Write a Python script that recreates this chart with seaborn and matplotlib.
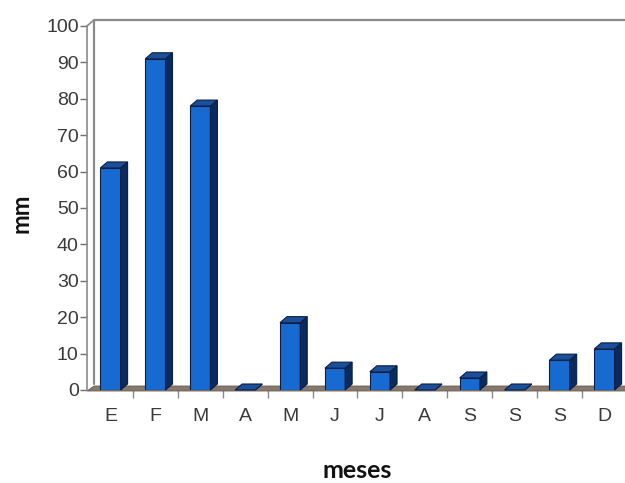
import matplotlib
matplotlib.use("Agg")
import matplotlib.pyplot as plt
import numpy as np
import pandas as pd
import seaborn as sns
from matplotlib.patches import Polygon

# monthly rainfall (mm)
months = ["E", "F", "M", "A", "M", "J", "J", "A", "S", "S", "S", "D"]
rain_mm = [61, 91, 78, 0, 18.5, 6, 5, 0, 3.3, 0, 8.2, 11.3]
y_ticks = list(range(0, 101, 10))

FRONT = "#176bd0"
SIDE = "#0b2b5e"
TOP = "#1c4f9a"
EDGE = "#0a1f45"
DX, DY = 7, 6  # fake 3d depth, pixels

sns.set_style("white")
plt.rcParams["font.family"] = ["Liberation Sans Narrow", "Liberation Sans", "DejaVu Sans"]

df = pd.DataFrame({"pos": np.arange(len(months)), "mm": rain_mm})

fig = plt.figure(figsize=(6.25, 4.83), dpi=100)
ax = fig.add_axes([87 / 625, 93 / 483, 538 / 625, 364 / 483])

sns.barplot(data=df, x="pos", y="mm", color=FRONT, saturation=1, width=0.45,
            edgecolor=EDGE, linewidth=0.8, ax=ax, zorder=2)
bars = list(ax.patches)

ax.set_xlim(-0.523, 11.457)
ax.set_ylim(0, 100)
ax.set_yticks(y_ticks)
ax.set_xticks(np.arange(len(months)))
ax.set_xticklabels(months)
ax.set_xticks(np.arange(len(months) - 1) + 0.5, minor=True)

for s in ["top", "right", "bottom"]:
    ax.spines[s].set_visible(False)
ax.spines["left"].set_color("#8a8a8a")
ax.spines["left"].set_linewidth(1.2)

ax.tick_params(axis="y", left=True, direction="out", length=5, width=1, color="#707070",
               labelsize=14, labelcolor="#3a3a3a", pad=1)
ax.tick_params(axis="x", which="major", bottom=True, length=0, labelsize=14,
               labelcolor="#3a3a3a", pad=13)
ax.tick_params(axis="x", which="minor", bottom=True, length=6, width=1, color="#8a8a8a")

to_data = ax.transData.inverted()


def add_poly(pts_px, **kw):
    ax.add_patch(Polygon(to_data.transform(np.array(pts_px, dtype=float)), closed=True,
                         clip_on=False, **kw))


# floor and back wall
(x_left, y_floor), (x_right, y_top) = ax.transData.transform([(-0.523, 0), (11.457, 100)])
add_poly([(x_left, y_floor - 1), (x_right, y_floor - 1), (x_right + DX, y_floor + DY - 2),
          (x_left + DX, y_floor + DY - 2)], facecolor="#85786c", edgecolor="#6a5c50",
         linewidth=0.6, zorder=1)
wall = to_data.transform([(x_left + DX, y_floor + DY), (x_left + DX, y_top + DY),
                          (x_right + 5, y_top + DY)])
ax.plot(wall[:, 0], wall[:, 1], color="#8a8a8a", lw=1.6, clip_on=False, zorder=1)
diag = to_data.transform([(x_left, y_top), (x_left + DX, y_top + DY)])
ax.plot(diag[:, 0], diag[:, 1], color="#8a8a8a", lw=1.2, clip_on=False, zorder=1)

# side and top faces of each bar
for bar in bars:
    (x0, y0), (x1, y1) = ax.transData.transform(
        [(bar.get_x(), bar.get_y()), (bar.get_x() + bar.get_width(), bar.get_y() + bar.get_height())])
    add_poly([(x1, y0), (x1 + DX, y0 + DY), (x1 + DX, y1 + DY), (x1, y1)],
             facecolor=SIDE, edgecolor=EDGE, linewidth=0.8, zorder=3)
    add_poly([(x0, y1), (x1, y1), (x1 + DX, y1 + DY), (x0 + DX, y1 + DY)],
             facecolor=TOP, edgecolor=EDGE, linewidth=0.8, zorder=3)

ax.set_xlabel("meses", fontsize=18, fontweight="bold", family=["Lato", "DejaVu Sans"],
              color="#111111", va="center")
ax.set_ylabel("mm", fontsize=17, fontweight="bold", family=["Lato", "DejaVu Sans"],
              color="#111111", va="center")
ax.xaxis.set_label_coords(0.502, -0.22)
ax.yaxis.set_label_coords(-0.1227, 0.486)

fig.savefig("out.png", dpi=100)
